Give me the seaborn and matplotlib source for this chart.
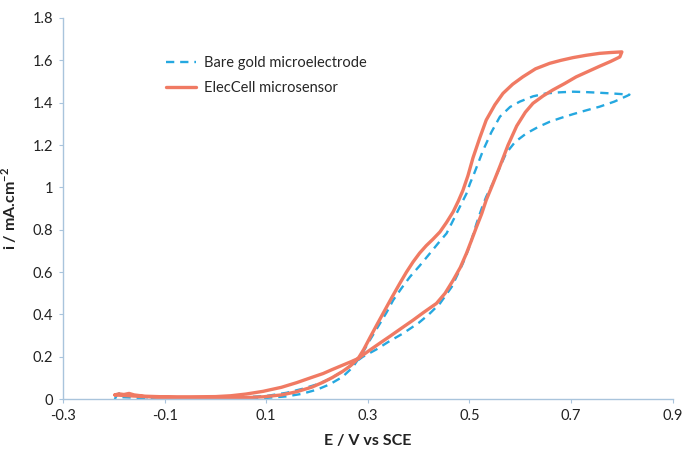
import numpy as np
import pandas as pd
import seaborn as sns
import matplotlib
matplotlib.use("Agg")
import matplotlib.pyplot as plt
from matplotlib.ticker import FuncFormatter

# bare gold microelectrode: forward sweep then reverse sweep
bare_E = [-0.198, -0.195, -0.19, -0.18, -0.17, -0.155, -0.13, -0.10, -0.05, 0.00, 0.05, 0.10, 0.14,
          0.17, 0.20, 0.225, 0.25, 0.27, 0.29, 0.317, 0.34, 0.369, 0.40, 0.42, 0.442, 0.465, 0.487,
          0.50, 0.514, 0.524, 0.533, 0.546, 0.559, 0.572, 0.59, 0.612, 0.635, 0.658, 0.68, 0.704,
          0.73, 0.756, 0.785, 0.81, 0.815,
          0.785, 0.756, 0.73, 0.704, 0.678, 0.651, 0.625, 0.599, 0.58, 0.56, 0.543, 0.527, 0.51,
          0.501, 0.494, 0.481, 0.468, 0.455, 0.438, 0.422, 0.402, 0.383, 0.366, 0.35, 0.337, 0.324,
          0.304, 0.29, 0.27, 0.25, 0.225, 0.20, 0.17, 0.14, 0.10, 0.05, 0.00, -0.05, -0.10, -0.15,
          -0.19]
bare_i = [0.000, 0.015, 0.027, 0.027, 0.020, 0.012, 0.008, 0.006, 0.006, 0.005, 0.008, 0.015, 0.030,
          0.048, 0.070, 0.095, 0.130, 0.165, 0.200, 0.235, 0.270, 0.310, 0.360, 0.400, 0.452, 0.530,
          0.641, 0.720, 0.830, 0.900, 0.956, 1.019, 1.090, 1.161, 1.215, 1.255, 1.285, 1.310, 1.328,
          1.346, 1.364, 1.381, 1.405, 1.432, 1.438,
          1.443, 1.447, 1.450, 1.452, 1.449, 1.444, 1.430, 1.405, 1.380, 1.334, 1.260, 1.176, 1.070,
          1.018, 0.970, 0.908, 0.845, 0.783, 0.735, 0.688, 0.630, 0.578, 0.523, 0.468, 0.410, 0.358,
          0.279, 0.220, 0.150, 0.105, 0.070, 0.045, 0.025, 0.013, 0.006, 0.003, 0.002, 0.002, 0.003,
          0.006, 0.010]

# ElecCell microsensor: forward sweep then reverse sweep
cell_E = [-0.198, -0.19, -0.18, -0.17, -0.16, -0.14, -0.10, -0.05, 0.00, 0.03, 0.06, 0.094, 0.13,
          0.16, 0.19, 0.212, 0.23, 0.251, 0.266, 0.281, 0.30, 0.324, 0.343, 0.365, 0.389, 0.41,
          0.435, 0.452, 0.468, 0.482, 0.494, 0.504, 0.514, 0.524, 0.533, 0.545, 0.56, 0.576, 0.593,
          0.61, 0.625, 0.645, 0.664, 0.687, 0.71, 0.733, 0.756, 0.778, 0.796, 0.80,
          0.778, 0.756, 0.73, 0.704, 0.68, 0.658, 0.63, 0.605, 0.585, 0.566, 0.55, 0.533, 0.52,
          0.507, 0.497, 0.487, 0.478, 0.468, 0.455, 0.442, 0.428, 0.415, 0.402, 0.389, 0.376, 0.363,
          0.346, 0.33, 0.317, 0.304, 0.292, 0.281, 0.266, 0.251, 0.23, 0.212, 0.19, 0.16, 0.13,
          0.094, 0.05, 0.00, -0.05, -0.10, -0.14, -0.17, -0.185, -0.198]
cell_i = [0.020, 0.025, 0.022, 0.027, 0.020, 0.014, 0.011, 0.011, 0.012, 0.016, 0.024, 0.037, 0.056,
          0.078, 0.103, 0.121, 0.140, 0.161, 0.176, 0.192, 0.225, 0.265, 0.296, 0.333, 0.373, 0.410,
          0.452, 0.500, 0.562, 0.622, 0.688, 0.750, 0.814, 0.875, 0.940, 1.010, 1.100, 1.200, 1.290,
          1.355, 1.397, 1.432, 1.460, 1.490, 1.522, 1.547, 1.572, 1.595, 1.616, 1.640,
          1.637, 1.633, 1.624, 1.613, 1.600, 1.586, 1.560, 1.522, 1.487, 1.444, 1.390, 1.318, 1.232,
          1.140, 1.055, 0.985, 0.935, 0.885, 0.835, 0.790, 0.755, 0.725, 0.690, 0.648, 0.600, 0.547,
          0.475, 0.405, 0.348, 0.290, 0.235, 0.192, 0.158, 0.132, 0.102, 0.080, 0.057, 0.035, 0.020,
          0.011, 0.006, 0.005, 0.006, 0.008, 0.012, 0.016, 0.018, 0.020]

bare = pd.DataFrame({"E": bare_E, "i": bare_i})
cell = pd.DataFrame({"E": cell_E, "i": cell_i})

sns.set_style("white")
plt.rcParams["font.family"] = ["Lato", "DejaVu Sans"]

fig = plt.figure(figsize=(6.85, 4.5), dpi=100)
ax = fig.add_axes([0.092, 0.113, 0.89, 0.847])

sns.lineplot(data=bare, x="E", y="i", sort=False, estimator=None, ax=ax,
             color="#25a8e0", lw=1.7, linestyle=(0, (3.5, 2.5)), label="Bare gold microelectrode")
sns.lineplot(data=cell, x="E", y="i", sort=False, estimator=None, ax=ax,
             color="#f07a63", lw=2.4, label="ElecCell microsensor")
for ln in ax.get_lines():
    ln.set_solid_joinstyle("round")
    ln.set_dash_joinstyle("round")

ax.set_xlim(-0.3, 0.9)
ax.set_ylim(0, 1.8)
ax.set_xticks(np.arange(-0.3, 0.91, 0.2))
ax.set_yticks(np.arange(0, 1.81, 0.2))
fmt = FuncFormatter(lambda v, p: "%g" % round(v, 2))
ax.xaxis.set_major_formatter(fmt)
ax.yaxis.set_major_formatter(fmt)

sns.despine(ax=ax)
for s in ["left", "bottom"]:
    ax.spines[s].set_color("#a9c4dc")
    ax.spines[s].set_linewidth(1.0)
ax.tick_params(axis="both", length=3, color="#a9c4dc", labelsize=10.5, labelcolor="#222222",
               direction="out", pad=4)
ax.tick_params(axis="both", which="both", bottom=True, left=True)

ax.set_xlabel("E / V vs SCE", fontsize=11.5, fontweight="bold", color="#222222", labelpad=8)
ax.set_ylabel("i / mA.cm$^{\\mathregular{-2}}$", fontsize=11.5, fontweight="bold", color="#222222",
              labelpad=10)

ax.legend(loc="upper left", bbox_to_anchor=(0.148, 0.935), frameon=False, fontsize=10.5,
          handlelength=2.0, handletextpad=0.6, labelspacing=0.75)

fig.savefig("out.png", dpi=100)
